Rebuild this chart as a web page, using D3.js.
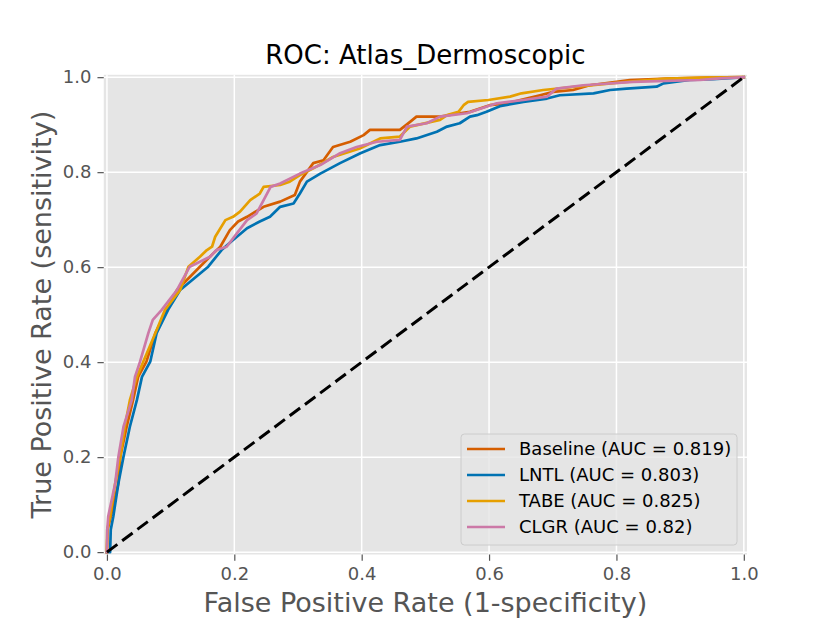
<!DOCTYPE html>
<html>
<head>
<meta charset="utf-8">
<script src="https://cdn.jsdelivr.net/npm/d3@7"></script>
<style>
  html, body { margin: 0; padding: 0; background: #ffffff; }
  svg { display: block; font-family: "DejaVu Sans", sans-serif; }
</style>
</head>
<body>
<svg id="chart" width="830" height="623"></svg>
<script>
// ---------------- data ----------------
const chartTitle = "ROC: Atlas_Dermoscopic";
const xLabel = "False Positive Rate (1-specificity)";
const yLabel = "True Positive Rate (sensitivity)";
const tickValues = [0.0, 0.2, 0.4, 0.6, 0.8, 1.0];

const seriesNames = ["Baseline", "LNTL", "TABE", "CLGR"];
const seriesAUC = ["0.819", "0.803", "0.825", "0.82"];
const seriesColors = ["#D55E00", "#0072B2", "#E69F00", "#CC79A7"];

const fprBaseline = [0, 0.001, 0.006, 0.018, 0.021, 0.031, 0.041, 0.049, 0.062, 0.076, 0.094, 0.110, 0.146, 0.167, 0.178, 0.193, 0.206, 0.220, 0.246, 0.272, 0.295, 0.303, 0.324, 0.340, 0.355, 0.382, 0.403, 0.413, 0.460, 0.476, 0.486, 0.523, 0.554, 0.570, 0.601, 0.628, 0.649, 0.680, 0.701, 0.732, 0.758, 0.821, 0.879, 0.942, 1.0];
const tprBaseline = [0, 0.047, 0.075, 0.145, 0.201, 0.264, 0.320, 0.369, 0.401, 0.461, 0.510, 0.552, 0.601, 0.629, 0.643, 0.678, 0.696, 0.706, 0.727, 0.738, 0.752, 0.780, 0.819, 0.825, 0.853, 0.864, 0.878, 0.889, 0.889, 0.906, 0.917, 0.917, 0.924, 0.927, 0.941, 0.945, 0.952, 0.962, 0.969, 0.973, 0.983, 0.994, 0.997, 0.999, 1.0];

const fprLNTL = [0, 0.005, 0.006, 0.010, 0.018, 0.026, 0.036, 0.047, 0.055, 0.068, 0.078, 0.096, 0.115, 0.159, 0.180, 0.198, 0.220, 0.240, 0.256, 0.272, 0.293, 0.303, 0.314, 0.335, 0.366, 0.398, 0.429, 0.460, 0.486, 0.518, 0.534, 0.554, 0.570, 0.581, 0.596, 0.617, 0.654, 0.691, 0.711, 0.764, 0.790, 0.816, 0.863, 0.874, 0.915, 0.952, 1.0];
const tprLNTL = [0, 0, 0.047, 0.075, 0.145, 0.201, 0.264, 0.320, 0.369, 0.401, 0.461, 0.510, 0.552, 0.601, 0.636, 0.657, 0.682, 0.696, 0.706, 0.727, 0.734, 0.755, 0.780, 0.797, 0.819, 0.840, 0.857, 0.864, 0.871, 0.885, 0.896, 0.903, 0.917, 0.920, 0.927, 0.939, 0.948, 0.955, 0.962, 0.966, 0.973, 0.976, 0.980, 0.987, 0.994, 0.996, 1.0];

const fprTABE = [0, 0.0005, 0.005, 0.013, 0.021, 0.028, 0.036, 0.047, 0.057, 0.076, 0.091, 0.115, 0.128, 0.146, 0.157, 0.165, 0.170, 0.186, 0.198, 0.209, 0.225, 0.240, 0.246, 0.272, 0.287, 0.303, 0.324, 0.355, 0.397, 0.429, 0.460, 0.476, 0.523, 0.534, 0.552, 0.560, 0.567, 0.599, 0.633, 0.651, 0.685, 0.738, 0.816, 0.879, 0.942, 1.0];
const tprTABE = [0, 0.047, 0.075, 0.145, 0.201, 0.264, 0.320, 0.369, 0.401, 0.461, 0.510, 0.552, 0.601, 0.622, 0.636, 0.643, 0.664, 0.699, 0.706, 0.717, 0.741, 0.755, 0.769, 0.773, 0.780, 0.794, 0.808, 0.832, 0.850, 0.871, 0.875, 0.896, 0.910, 0.920, 0.927, 0.941, 0.948, 0.952, 0.959, 0.966, 0.973, 0.980, 0.990, 0.997, 0.999, 1.0];

const fprCLGR = [0, 0.0005, 0.002, 0.013, 0.018, 0.026, 0.039, 0.044, 0.052, 0.065, 0.072, 0.086, 0.110, 0.130, 0.162, 0.172, 0.188, 0.204, 0.220, 0.235, 0.246, 0.257, 0.272, 0.303, 0.335, 0.366, 0.392, 0.424, 0.460, 0.471, 0.502, 0.523, 0.565, 0.612, 0.654, 0.691, 0.706, 0.748, 0.826, 0.931, 0.957, 1.0];
const tprCLGR = [0, 0.047, 0.075, 0.145, 0.201, 0.264, 0.320, 0.369, 0.401, 0.461, 0.489, 0.510, 0.552, 0.601, 0.622, 0.636, 0.643, 0.671, 0.699, 0.713, 0.741, 0.769, 0.776, 0.797, 0.815, 0.840, 0.853, 0.864, 0.868, 0.896, 0.903, 0.917, 0.924, 0.945, 0.952, 0.959, 0.976, 0.983, 0.990, 0.994, 0.997, 1.0];

const seriesFpr = [fprBaseline, fprLNTL, fprTABE, fprCLGR];
const seriesTpr = [tprBaseline, tprLNTL, tprTABE, tprCLGR];

// ---------------- layout ----------------
const axL = 103.75, axR = 747, axT = 74.8, axB = 554.5;

const svg = d3.select("#chart");

const x = d3.scaleLinear().domain([-0.005, 1.005]).range([axL, axR]);
const y = d3.scaleLinear().domain([-0.005, 1.005]).range([axB, axT]);

// axes background
svg.append("rect")
  .attr("x", axL).attr("y", axT)
  .attr("width", axR - axL).attr("height", axB - axT)
  .attr("fill", "#E5E5E5");

// grid
const grid = svg.append("g");
grid.selectAll("line.vx").data(tickValues).enter().append("line")
  .attr("x1", d => x(d)).attr("x2", d => x(d))
  .attr("y1", axT).attr("y2", axB)
  .attr("stroke", "#ffffff").attr("stroke-width", 1.5);
grid.selectAll("line.hy").data(tickValues).enter().append("line")
  .attr("y1", d => y(d)).attr("y2", d => y(d))
  .attr("x1", axL).attr("x2", axR)
  .attr("stroke", "#ffffff").attr("stroke-width", 1.5);

// axes
const fmt = d3.format(".1f");
const xAxis = d3.axisBottom(x).tickValues(tickValues).tickFormat(fmt).tickSizeInner(6.3).tickSizeOuter(0).tickPadding(6);
const yAxis = d3.axisLeft(y).tickValues(tickValues).tickFormat(fmt).tickSizeInner(6.3).tickSizeOuter(0).tickPadding(6);

const gx = svg.append("g").attr("transform", `translate(0,${axB})`).call(xAxis);
const gy = svg.append("g").attr("transform", `translate(${axL},0)`).call(yAxis);
[gx, gy].forEach(g => {
  g.select(".domain").remove();
  g.selectAll(".tick line").attr("stroke", "#555555").attr("stroke-width", 1.2);
  g.selectAll(".tick text")
    .attr("fill", "#555555")
    .style("font-family", "'DejaVu Sans', sans-serif")
    .style("font-size", "18px");
});

// clip
svg.append("clipPath").attr("id", "clip")
  .append("rect").attr("x", axL).attr("y", axT)
  .attr("width", axR - axL).attr("height", axB - axT);

const plot = svg.append("g").attr("clip-path", "url(#clip)");

const line = d3.line().x(d => x(d[0])).y(d => y(d[1]));

seriesNames.forEach((name, i) => {
  const pts = seriesFpr[i].map((f, j) => [f, seriesTpr[i][j]]);
  plot.append("path")
    .datum(pts)
    .attr("d", line)
    .attr("fill", "none")
    .attr("stroke", seriesColors[i])
    .attr("stroke-width", 2.7)
    .attr("stroke-linejoin", "round")
    .attr("stroke-linecap", "square");
});

// chance diagonal
plot.append("path")
  .datum([[0, 0], [1, 1]])
  .attr("d", line)
  .attr("fill", "none")
  .attr("stroke", "#000000")
  .attr("stroke-width", 3)
  .attr("stroke-dasharray", "13,6");

// title and labels
svg.append("text")
  .attr("x", (axL + axR) / 2).attr("y", 64)
  .attr("text-anchor", "middle")
  .attr("fill", "#000000")
  .style("font-size", "26px")
  .text(chartTitle);

svg.append("text")
  .attr("x", (axL + axR) / 2).attr("y", 612)
  .attr("text-anchor", "middle")
  .attr("fill", "#555555")
  .style("font-size", "27px")
  .text(xLabel);

svg.append("text")
  .attr("transform", `translate(51,${(axT + axB) / 2}) rotate(-90)`)
  .attr("text-anchor", "middle")
  .attr("fill", "#555555")
  .style("font-size", "27px")
  .text(yLabel);

// legend
const legX = 461, legY = 434, legW = 276, legH = 111;
const leg = svg.append("g");
leg.append("rect")
  .attr("x", legX).attr("y", legY)
  .attr("width", legW).attr("height", legH)
  .attr("rx", 3.5).attr("ry", 3.5)
  .attr("fill", "#E5E5E5").attr("fill-opacity", 0.8)
  .attr("stroke", "#CCCCCC").attr("stroke-width", 1);

seriesNames.forEach((name, i) => {
  const cy = legY + 15 + i * 26;
  leg.append("line")
    .attr("x1", legX + 6).attr("x2", legX + 44)
    .attr("y1", cy).attr("y2", cy)
    .attr("stroke", seriesColors[i]).attr("stroke-width", 2.7);
  leg.append("text")
    .attr("x", legX + 58).attr("y", cy)
    .attr("dy", "0.35em")
    .attr("fill", "#000000")
    .style("font-size", "18px")
    .text(`${name} (AUC = ${seriesAUC[i]})`);
});
</script>
</body>
</html>
